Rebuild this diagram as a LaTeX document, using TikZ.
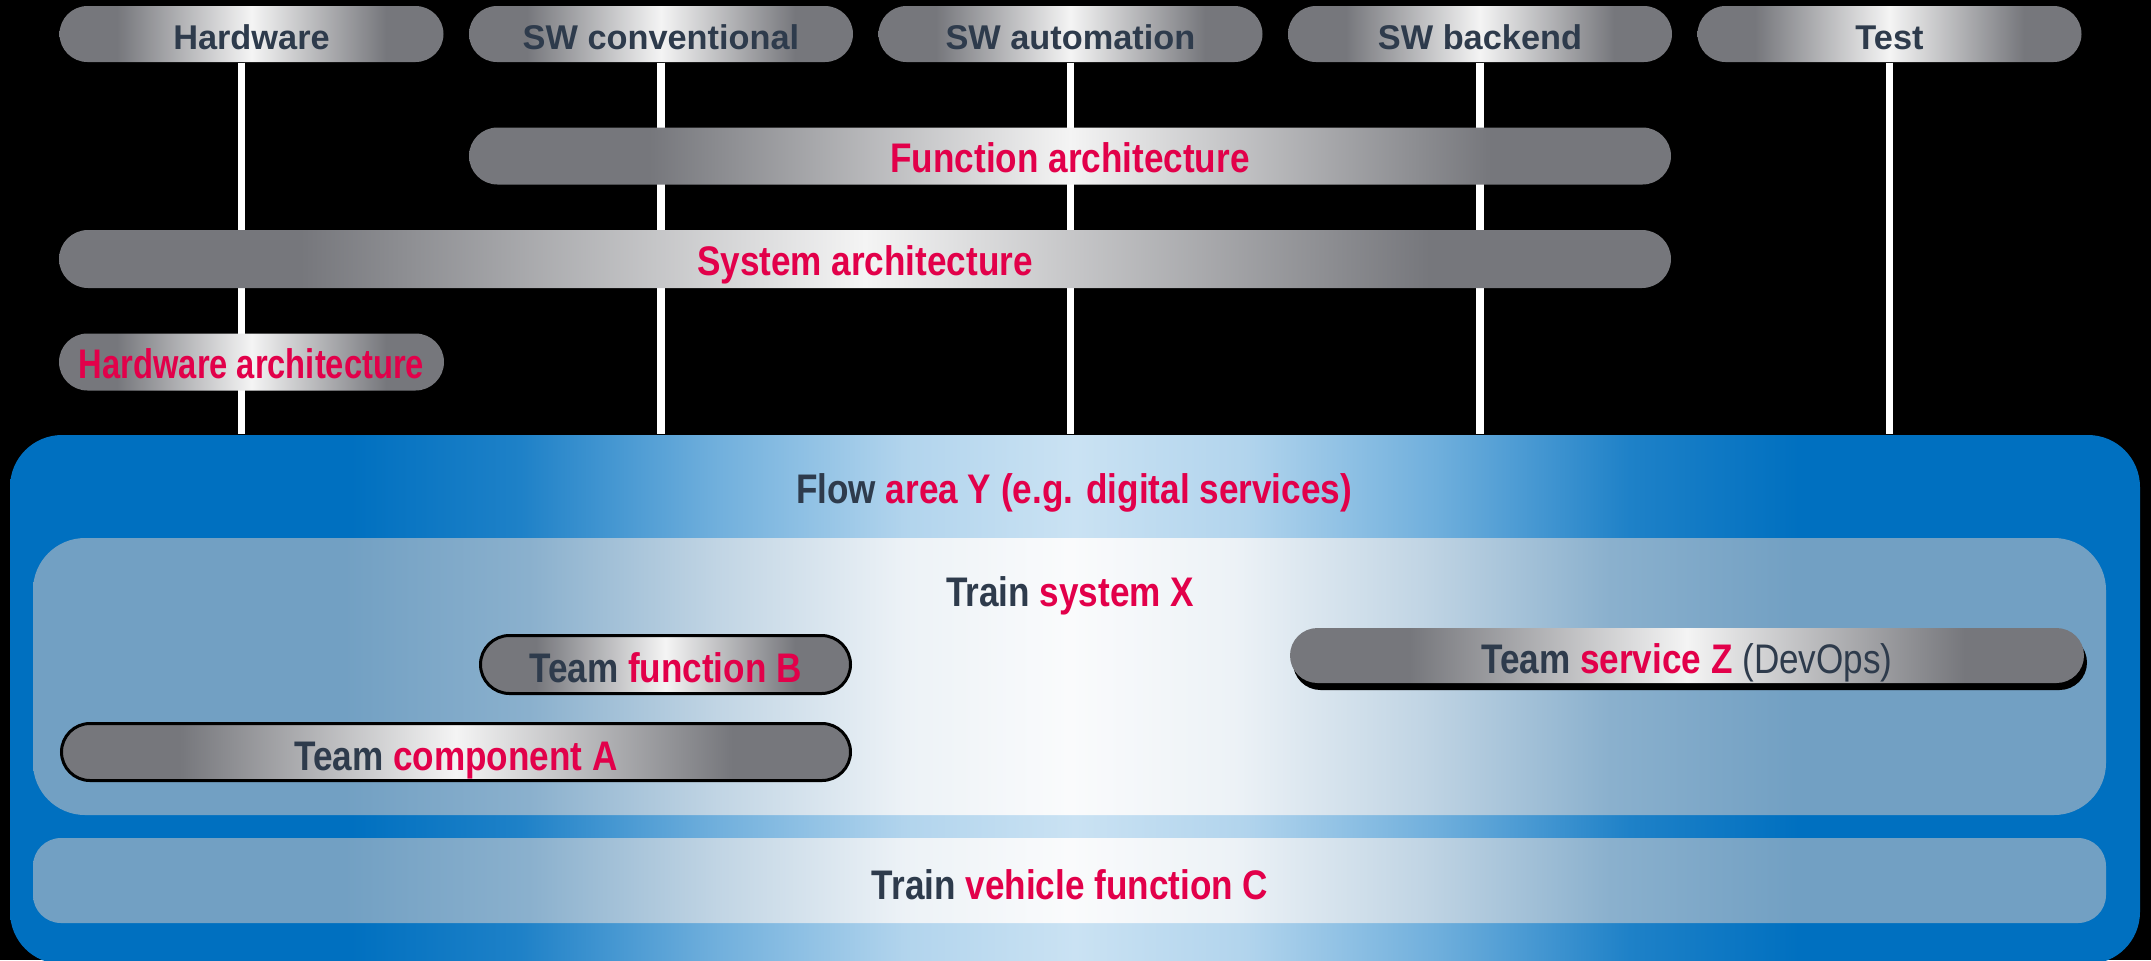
\documentclass[tikz,border=0pt]{standalone}
\usepackage{fontspec}
\setmainfont{Liberation Sans}
\newfontfamily\narrowfont{Liberation Sans}[FakeStretch=0.85]
\usepackage{graphicx}
\usepackage{tikz}
\usetikzlibrary{positioning, shapes.misc, shadows}

\definecolor{pillgray}{RGB}{118,119,124}
\definecolor{pillwhite}{RGB}{244,244,244}
\definecolor{flowblue}{RGB}{0,112,192}
\definecolor{flowlight}{RGB}{202,226,243}
\definecolor{steel}{RGB}{114,160,195}
\definecolor{steelwhite}{RGB}{250,251,252}
\definecolor{labeldark}{RGB}{46,59,76}
\definecolor{labelred}{RGB}{226,0,74}

\pgfdeclarehorizontalshading{metal}{100bp}{color(0bp)=(pillgray); color(32.5bp)=(pillgray); color(50bp)=(pillwhite); color(67.5bp)=(pillgray); color(100bp)=(pillgray)}
\pgfdeclarehorizontalshading{flowshade}{100bp}{color(0bp)=(flowblue); color(33bp)=(flowblue); color(37bp)=(flowlight!15!flowblue); color(41.5bp)=(flowlight!55!flowblue); color(46bp)=(flowlight!88!flowblue); color(50bp)=(flowlight); color(54bp)=(flowlight!88!flowblue); color(58.5bp)=(flowlight!55!flowblue); color(63bp)=(flowlight!15!flowblue); color(67bp)=(flowblue); color(100bp)=(flowblue)}
\pgfdeclarehorizontalshading{trainshade}{100bp}{color(0bp)=(steel); color(32.5bp)=(steel); color(37bp)=(steelwhite!18!steel); color(41.5bp)=(steelwhite!58!steel); color(46bp)=(steelwhite!90!steel); color(50bp)=(steelwhite); color(54bp)=(steelwhite!90!steel); color(58.5bp)=(steelwhite!58!steel); color(63bp)=(steelwhite!18!steel); color(67.5bp)=(steel); color(100bp)=(steel)}

\newlength\pxu
\setlength\pxu{0.3pt}
\newcommand\hl[1]{\textcolor{labelred}{#1}}

\begin{document}
\begin{tikzpicture}[x=0.3pt, y=-0.3pt,
        pill/.style={rounded rectangle, shading=metal, inner sep=0pt, text=labeldark},
        headpill/.style={pill, minimum width=384\pxu, minimum height=56\pxu, font=\bfseries\fontsize{10.3}{12}\selectfont, text height=9pt, text depth=0pt},
        archpill/.style={pill, minimum height=57\pxu, font=\narrowfont\bfseries\fontsize{12.4}{14}\selectfont, text=labelred, text height=9.6pt, text depth=0pt},
        teampill/.style={pill, font=\narrowfont\bfseries\fontsize{12.4}{14}\selectfont, text height=10.8pt, text depth=0pt},
        areabox/.style={rectangle, inner sep=0pt, rounded corners=52\pxu},
        areatext/.style={anchor=base, font=\narrowfont\bfseries\fontsize{12.4}{14}\selectfont, text=labeldark},
        lane/.style={white, line width=7.5\pxu}]
                \fill [black] (0, 0) rectangle (2151, 960);
                \useasboundingbox (0, 0) rectangle (2151, 960);

                \node [headpill] (hw) at (251.5, 34) {Hardware};
                \node [headpill] (swconv) at (661, 34) {SW conventional};
                \node [headpill] (swauto) at (1070.5, 34) {SW automation};
                \node [headpill] (swback) at (1480, 34) {SW backend};
                \node [headpill] (test) at (1889.5, 34) {Test};

                \node [areabox, shading=flowshade, minimum width=2130\pxu, minimum height=529\pxu] (flow) at (1075, 699.5) {};

                \draw [lane] ([xshift=-10\pxu]hw.south) -- ([xshift=-10\pxu]hw.south |- flow.north);
                \foreach \col in {swconv, swauto, swback, test}
                    \draw [lane] (\col.south) -- (\col.south |- flow.north);

                \node [archpill, minimum width=1202\pxu] (funcarch) at (1070, 156) {Function architecture};
                \node [archpill, minimum width=1612\pxu, minimum height=58\pxu] (sysarch) at (865, 259) {System architecture};
                \node [archpill, minimum width=385\pxu] (hwarch) at (251.5, 362) {\scalebox{0.93}[1]{Hardware architecture}};

                \node [areabox, shading=trainshade, minimum width=2073\pxu, minimum height=277\pxu] (trainsys) at (1069.5, 676.5) {};
                \node [areabox, shading=trainshade, rounded corners=28\pxu, minimum width=2073\pxu, minimum height=85\pxu] (vehicle) at (1069.5, 880.5) {};

                \node [areatext] (flowlabel) at (1074, 503) {Flow \hl{area Y (e.g. digital services)}};
                \node [areatext] (syslabel) at (1070, 606) {Train \hl{system X}};
                \node [areatext] (vehlabel) at (1070, 899) {Train \hl{vehicle function C}};

                \node [teampill, draw=black, line width=3\pxu, minimum width=370\pxu, minimum height=58\pxu] (teamb) at (665.5, 664.5) {Team \hl{function B}};
                \node [teampill, draw=black, line width=3\pxu, minimum width=789\pxu, minimum height=57\pxu] (teama) at (456, 752) {Team \hl{component A}};
                \node [teampill, minimum width=794\pxu, minimum height=55\pxu, drop shadow={shadow xshift=3\pxu, shadow yshift=-7\pxu, fill=black, opacity=1}] (teamz) at (1687, 655.5) {Team \hl{service Z} {\mdseries(DevOps)}};
            \end{tikzpicture}
\end{document}
